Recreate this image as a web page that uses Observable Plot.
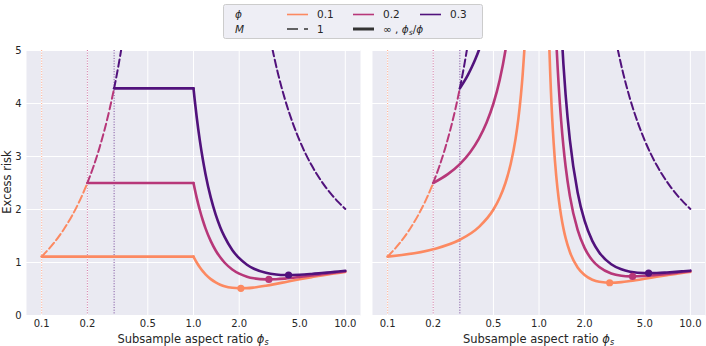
<!DOCTYPE html>
<html><head><meta charset="utf-8">
<script src="https://cdn.jsdelivr.net/npm/d3@7"></script>
<script src="https://cdn.jsdelivr.net/npm/@observablehq/plot@0.6"></script>
<style>
body{margin:0;background:#fff;}
#root{position:relative;width:706px;height:346px;font-family:"DejaVu Sans",sans-serif;color:#262626;overflow:hidden;}
.panel{position:absolute;top:0;}
.xlab{position:absolute;top:333px;font-size:11.5px;white-space:nowrap;transform:translateX(-50%);line-height:12px;}
.ylab{position:absolute;left:7px;top:182px;font-size:11.5px;white-space:nowrap;transform:translate(-50%,-50%) rotate(-90deg);}
sub{font-size:70%;vertical-align:-0.25em;line-height:0;}
#legend{position:absolute;left:0;top:0;}
</style></head><body><div id="root"></div>
<script>
// ---------- data ----------
const phiValues = [0.1, 0.2, 0.3];
const phiLabels = ["0.1", "0.2", "0.3"];
const colors = ["#fc8961", "#b73779", "#51127c"];
const xTicks = [0.1, 0.2, 0.5, 1, 2, 5, 10];
const xTickLabels = ["0.1", "0.2", "0.5", "1.0", "2.0", "5.0", "10.0"];
const yTicks = [0, 1, 2, 3, 4, 5];

// M = 1 (dashed), phi_s < 1 part, one piece per phi
const dashLowX01 = [0.1, 0.12, 0.14, 0.16, 0.18, 0.2];
const dashLowY01 = [1.111, 1.364, 1.628, 1.905, 2.195, 2.5];
const dashLowX02 = [0.2, 0.22, 0.24, 0.26, 0.28, 0.3];
const dashLowY02 = [2.5, 2.821, 3.158, 3.514, 3.889, 4.286];
const dashLowX03 = [0.3, 0.31, 0.32, 0.33, 0.34, 0.35];
const dashLowY03 = [4.286, 4.493, 4.706, 4.925, 5.152, 5.385];
// M = 1 (dashed), phi_s > 1 part
const dashHighX = [3.2, 3.3, 3.4, 3.6, 3.8, 4, 4.5, 5, 5.5, 6, 6.5, 7, 7.5, 8, 9, 10];
const dashHighY = [5.233, 5.045, 4.873, 4.568, 4.308, 4.083, 3.635, 3.3, 3.04, 2.833, 2.664, 2.524, 2.405, 2.304, 2.139, 2.011];

// left panel, M = infinity: flat part from phi to 1, then decreasing part
const flatY = [1.111, 2.5, 4.286];
const bagX = [1, 1.02, 1.05, 1.1, 1.15, 1.2, 1.3, 1.4, 1.5, 1.6, 1.8, 2, 2.25, 2.5, 3, 3.5, 4, 5, 6, 7, 8, 9, 10];
const bagY01 = [1.111, 1.064, 1.0, 0.91, 0.836, 0.776, 0.686, 0.624, 0.581, 0.553, 0.522, 0.513, 0.516, 0.528, 0.562, 0.597, 0.629, 0.683, 0.724, 0.757, 0.782, 0.803, 0.821];
const bagY02 = [2.5, 2.38, 2.219, 1.99, 1.802, 1.645, 1.403, 1.227, 1.098, 1.0, 0.868, 0.789, 0.733, 0.702, 0.682, 0.685, 0.696, 0.726, 0.754, 0.779, 0.799, 0.817, 0.832];
const bagY03 = [4.286, 4.052, 3.741, 3.308, 2.956, 2.667, 2.223, 1.904, 1.667, 1.487, 1.238, 1.081, 0.958, 0.882, 0.805, 0.774, 0.764, 0.769, 0.784, 0.801, 0.816, 0.83, 0.843];
const leftMinX = [2.051, 3.136, 4.229];
const leftMinY = [0.513, 0.681, 0.764];

// right panel, M = phi_s/phi: phi_s < 1 part
const splitLowX01 = [0.1, 0.2, 0.3, 0.4, 0.5, 0.55, 0.6, 0.65, 0.7, 0.73, 0.76, 0.78, 0.8, 0.82, 0.84];
const splitLowY01 = [1.111, 1.25, 1.429, 1.667, 2.0, 2.222, 2.5, 2.857, 3.333, 3.704, 4.167, 4.545, 5.0, 5.556, 6.25];
const splitLowX02 = [0.2, 0.25, 0.3, 0.35, 0.4, 0.45, 0.5, 0.55, 0.6, 0.63, 0.66];
const splitLowY02 = [2.5, 2.667, 2.857, 3.077, 3.333, 3.636, 4.0, 4.444, 5.0, 5.405, 5.882];
const splitLowX03 = [0.3, 0.32, 0.34, 0.36, 0.38, 0.4, 0.42, 0.45];
const splitLowY03 = [4.286, 4.412, 4.545, 4.688, 4.839, 5.0, 5.172, 5.455];
// right panel, phi_s > 1 part
const splitHighX01 = [1.12, 1.15, 1.2, 1.25, 1.3, 1.35, 1.4, 1.45, 1.5, 1.6, 1.8, 2, 2.25, 2.5, 3, 3.5, 4, 5, 6, 7, 8, 9, 10];
const splitHighY01 = [7.46, 5.825, 4.206, 3.253, 2.631, 2.198, 1.882, 1.644, 1.459, 1.197, 0.906, 0.763, 0.675, 0.636, 0.619, 0.63, 0.651, 0.693, 0.73, 0.76, 0.785, 0.805, 0.822];
const splitHighX02 = [1.25, 1.3, 1.35, 1.4, 1.45, 1.5, 1.6, 1.8, 2, 2.25, 2.5, 3, 3.5, 4, 5, 6, 7, 8, 9, 10];
const splitHighY02 = [6.466, 5.208, 4.328, 3.683, 3.19, 2.807, 2.253, 1.614, 1.275, 1.042, 0.913, 0.793, 0.75, 0.739, 0.746, 0.766, 0.786, 0.804, 0.82, 0.834];
const splitHighX03 = [1.35, 1.4, 1.45, 1.5, 1.6, 1.8, 2, 2.25, 2.5, 3, 3.5, 4, 5, 6, 7, 8, 9, 10];
const splitHighY03 = [6.459, 5.483, 4.738, 4.156, 3.309, 2.322, 1.788, 1.408, 1.189, 0.967, 0.871, 0.827, 0.8, 0.801, 0.811, 0.823, 0.835, 0.846];
const rightMinX = [2.93, 4.15, 5.3];
const rightMinY = [0.618, 0.737, 0.8];

// ---------- helpers ----------
const rows = (xs, ys) => xs.map((x, i) => ({x, y: ys[i]}));
const dashLow = [rows(dashLowX01, dashLowY01), rows(dashLowX02, dashLowY02), rows(dashLowX03, dashLowY03)];
const dashHigh = rows(dashHighX, dashHighY);
const bagYs = [bagY01, bagY02, bagY03];
const splitLow = [rows(splitLowX01, splitLowY01), rows(splitLowX02, splitLowY02), rows(splitLowX03, splitLowY03)];
const splitHigh = [rows(splitHighX01, splitHighY01), rows(splitHighX02, splitHighY02), rows(splitHighX03, splitHighY03)];
const xTickRows = xTicks.map((x, i) => ({x, label: xTickLabels[i]}));

const BG = "#EAEAF2";
const DASH = "7.5,3.5";

function baseMarks() {
  return [
    Plot.frame({fill: BG, stroke: "none"}),
    Plot.ruleY(yTicks, {y: d => d, stroke: "white", strokeWidth: 1}),
    Plot.ruleX(xTicks, {x: d => d, stroke: "white", strokeWidth: 1}),
    ...phiValues.map((p, i) => Plot.ruleX([p], {x: d => d, stroke: colors[i], strokeWidth: 1, strokeOpacity: 0.75, strokeDasharray: "1,1.65"})),
    Plot.text(xTickRows, {x: "x", text: "label", frameAnchor: "bottom", dy: 11, fill: "#262626", fontSize: 10})
  ];
}

function dashedMarks() {
  const m = dashLow.map((r, i) => Plot.line(r, {x: "x", y: "y", stroke: colors[i], strokeWidth: 2, strokeDasharray: DASH, curve: "monotone-x", clip: true}));
  m.push(Plot.line(dashHigh, {x: "x", y: "y", stroke: colors[2], strokeWidth: 2, strokeDasharray: DASH, curve: "monotone-x", clip: true}));
  return m;
}

const xScale = {type: "log", domain: [Math.pow(10, -1.1), Math.pow(10, 1.1)], axis: null};
const style = {fontFamily: "DejaVu Sans", fontSize: "10px", color: "#262626", background: "transparent", overflow: "visible"};

// ---------- left panel ----------
const leftMarks = [...baseMarks(), ...dashedMarks()];
phiValues.forEach((p, i) => {
  leftMarks.push(Plot.line([{x: p, y: flatY[i]}, {x: 1, y: flatY[i]}], {x: "x", y: "y", stroke: colors[i], strokeWidth: 2.6, clip: true}));
  leftMarks.push(Plot.line(rows(bagX, bagYs[i]), {x: "x", y: "y", stroke: colors[i], strokeWidth: 2.6, curve: "monotone-x", clip: true}));
});
phiValues.forEach((p, i) => {
  leftMarks.push(Plot.dot([{x: leftMinX[i], y: leftMinY[i]}], {x: "x", y: "y", fill: colors[i], r: 3.6}));
});

const left = Plot.plot({
  width: 362, height: 346, marginLeft: 26, marginRight: 2, marginTop: 50, marginBottom: 31,
  x: xScale,
  y: {domain: [0, 5], ticks: yTicks, tickSize: 0, tickPadding: 5, label: null, tickFormat: d => String(d)},
  style, marks: leftMarks
});

// ---------- right panel ----------
const rightMarks = [...baseMarks(), ...dashedMarks()];
phiValues.forEach((p, i) => {
  rightMarks.push(Plot.line(splitLow[i], {x: "x", y: "y", stroke: colors[i], strokeWidth: 2.6, curve: "monotone-x", clip: true}));
  rightMarks.push(Plot.line(splitHigh[i], {x: "x", y: "y", stroke: colors[i], strokeWidth: 2.6, curve: "monotone-x", clip: true}));
});
phiValues.forEach((p, i) => {
  rightMarks.push(Plot.dot([{x: rightMinX[i], y: rightMinY[i]}], {x: "x", y: "y", fill: colors[i], r: 3.6}));
});

const right = Plot.plot({
  width: 344, height: 346, marginLeft: 10, marginRight: 1, marginTop: 50, marginBottom: 31,
  x: xScale,
  y: {domain: [0, 5], axis: null},
  style, marks: rightMarks
});

const root = document.getElementById("root");
const lp = document.createElement("div"); lp.className = "panel"; lp.style.left = "0px"; lp.appendChild(left); root.appendChild(lp);
const rp = document.createElement("div"); rp.className = "panel"; rp.style.left = "362px"; rp.appendChild(right); root.appendChild(rp);

// axis labels
const labelHTML = 'Subsample aspect ratio <i>ϕ</i><sub><i>s</i></sub>';
[193, 538.5].forEach(cx => {
  const d = document.createElement("div"); d.className = "xlab"; d.style.left = cx + "px"; d.innerHTML = labelHTML; root.appendChild(d);
});
const yl = document.createElement("div"); yl.className = "ylab"; yl.textContent = "Excess risk"; root.appendChild(yl);

// ---------- legend ----------
const svg = d3.select(root).append("svg").attr("id", "legend").attr("width", 706).attr("height", 46)
  .style("font-family", "DejaVu Sans").style("font-size", "10.5px").style("fill", "#262626");
svg.append("rect").attr("x", 223.5).attr("y", 4.5).attr("width", 259).attr("height", 34).attr("rx", 2)
  .attr("fill", "#EEEEF5").attr("stroke", "#cccccc").attr("stroke-width", 1);
const row1 = 14.5, row2 = 29;
svg.append("text").attr("x", 235).attr("y", row1).attr("dy", "0.35em").style("font-style", "italic").text("ϕ");
svg.append("text").attr("x", 235).attr("y", row2).attr("dy", "0.35em").style("font-style", "italic").text("M");
const lineX = [287, 353, 420];
phiValues.forEach((p, i) => {
  svg.append("line").attr("x1", lineX[i]).attr("x2", lineX[i] + 21).attr("y1", row1).attr("y2", row1)
    .attr("stroke", colors[i]).attr("stroke-width", 1.6);
  svg.append("text").attr("x", lineX[i] + 30).attr("y", row1).attr("dy", "0.35em").text(phiLabels[i]);
});
svg.append("line").attr("x1", 287).attr("x2", 308).attr("y1", row2).attr("y2", row2)
  .attr("stroke", "#333").attr("stroke-width", 1.6).attr("stroke-dasharray", "11,6");
svg.append("text").attr("x", 317).attr("y", row2).attr("dy", "0.35em").text("1");
svg.append("line").attr("x1", 353).attr("x2", 374).attr("y1", row2).attr("y2", row2)
  .attr("stroke", "#333").attr("stroke-width", 3);
const t = svg.append("text").attr("x", 383).attr("y", row2).attr("dy", "0.35em");
t.append("tspan").text("∞  , ");
t.append("tspan").style("font-style", "italic").text("ϕ");
t.append("tspan").style("font-style", "italic").style("font-size", "7.5px").attr("dy", "2.5").text("s");
t.append("tspan").attr("dy", "-2.5").text("/");
t.append("tspan").style("font-style", "italic").text("ϕ");
</script></body></html>
